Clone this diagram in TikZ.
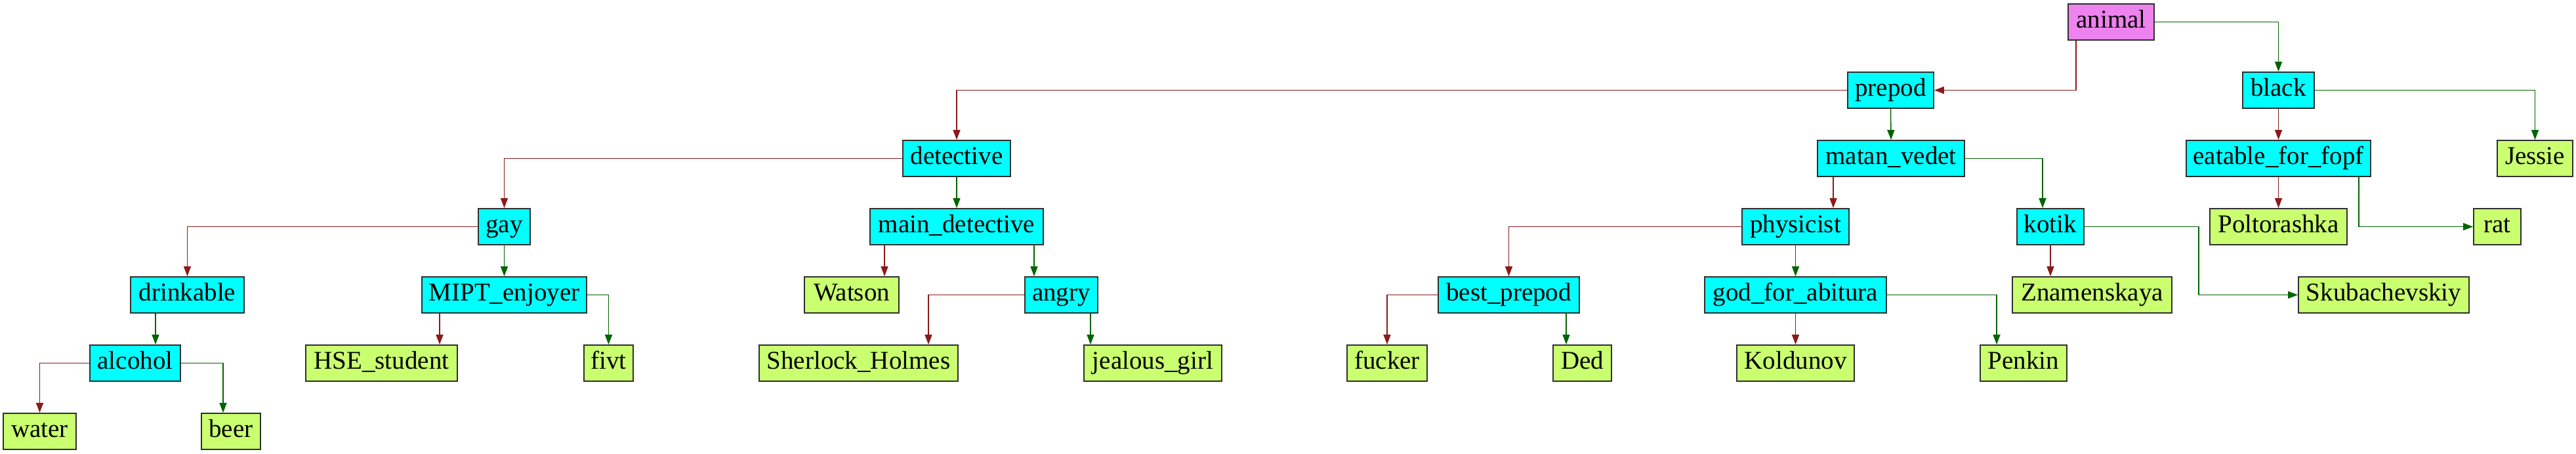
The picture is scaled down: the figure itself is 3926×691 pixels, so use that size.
\documentclass[tikz,border=0pt]{standalone}
\usepackage{fontspec}
\setmainfont{Liberation Serif}
\usetikzlibrary{arrows.meta}
\definecolor{cyanfill}{HTML}{00FFFF}
\definecolor{violetfill}{HTML}{EE82EE}
\definecolor{leaffill}{HTML}{CAFF70}
\definecolor{redge}{HTML}{8B1A1A}
\definecolor{gedge}{HTML}{006400}
\definecolor{boxline}{HTML}{303030}
\tikzset{
  box/.style={draw=boxline, line width=1.8pt, rectangle, minimum height=55pt, inner sep=0pt,
    font=\fontsize{39}{45}\selectfont, text height=26.5pt, text depth=7.8pt},
  inner/.style={box, fill=cyanfill},
  rootbox/.style={box, fill=violetfill},
  leaf/.style={box, fill=leaffill},
  redge/.style={draw=redge, line width=1.5pt, -{Triangle[length=15pt,width=11pt]}},
  gedge/.style={draw=gedge, line width=1.5pt, -{Triangle[length=15pt,width=11pt]}},
}
\begin{document}
\begin{tikzpicture}[x=1pt, y=-1pt]
\useasboundingbox (0,0) rectangle (3926,691);
% row 0
\node[rootbox, minimum width=131pt] (animal) at (3217.5,33.5) {animal};
% row 1
\node[inner, minimum width=131pt] (prepod) at (2881.5,137.5) {prepod};
\node[inner, minimum width=109pt] (black) at (3472.5,137.5) {black};
% row 2
\node[inner, minimum width=164pt] (detective) at (1458,241.5) {detective};
\node[inner, minimum width=224pt] (matan) at (2882,241.5) {matan\_vedet};
\node[inner, minimum width=281pt] (eatable) at (3472.5,241.5) {eatable\_for\_fopf};
\node[leaf, minimum width=115pt] (Jessie) at (3863.5,241.5) {Jessie};
% row 3
\node[inner, minimum width=79pt] (gay) at (768.5,345.5) {gay};
\node[inner, minimum width=264pt] (maindet) at (1458,345.5) {main\_detective};
\node[inner, minimum width=163pt] (physicist) at (2736.5,345.5) {physicist};
\node[inner, minimum width=102pt] (kotik) at (3125,345.5) {kotik};
\node[leaf, minimum width=209pt] (Poltorashka) at (3472.5,345.5) {Poltorashka};
\node[leaf, minimum width=72pt] (rat) at (3806,345.5) {rat};
% row 4
\node[inner, minimum width=173pt] (drinkable) at (285.5,449.5) {drinkable};
\node[inner, minimum width=251pt] (MIPT) at (768.5,449.5) {MIPT\_enjoyer};
\node[leaf, minimum width=144pt] (Watson) at (1298,449.5) {Watson};
\node[inner, minimum width=111pt] (angry) at (1617.5,449.5) {angry};
\node[inner, minimum width=215pt] (best) at (2299.5,449.5) {best\_prepod};
\node[inner, minimum width=277pt] (god) at (2736.5,449.5) {god\_for\_abitura};
\node[leaf, minimum width=243pt] (Znam) at (3188.5,449.5) {Znamenskaya};
\node[leaf, minimum width=260pt] (Skub) at (3633,449.5) {Skubachevskiy};
% row 5
\node[inner, minimum width=138pt] (alcohol) at (206,553.5) {alcohol};
\node[leaf, minimum width=231pt] (HSE) at (581.5,553.5) {HSE\_student};
\node[leaf, minimum width=75pt] (fivt) at (927.5,553.5) {fivt};
\node[leaf, minimum width=303pt] (Sherlock) at (1308.5,553.5) {Sherlock\_Holmes};
\node[leaf, minimum width=210pt] (jealous) at (1757,553.5) {jealous\_girl};
\node[leaf, minimum width=122pt] (fucker) at (2114,553.5) {fucker};
\node[leaf, minimum width=89pt] (Ded) at (2411.5,553.5) {Ded};
\node[leaf, minimum width=179pt] (Koldunov) at (2736.5,553.5) {Koldunov};
\node[leaf, minimum width=132pt] (Penkin) at (3084,553.5) {Penkin};
% row 6
\node[leaf, minimum width=111pt] (water) at (60.5,657.5) {water};
\node[leaf, minimum width=90pt] (beer) at (352,657.5) {beer};
% edges
\draw[redge] ([xshift=-53.5pt]animal.south) |- (prepod.east);
\draw[gedge] (animal.east) -| (black.north);
\draw[redge] (prepod.west) -| (detective.north);
\draw[gedge] (prepod.south) -- (matan.north);
\draw[redge] (black.south) -- (eatable.north);
\draw[gedge] (black.east) -| (Jessie.north);
\draw[redge] (detective.west) -| (gay.north);
\draw[gedge] (detective.south) -- (maindet.north);
\draw[redge] ([xshift=-88pt]matan.south) -- ([xshift=57.5pt]physicist.north);
\draw[gedge] (matan.east) -| ([xshift=-12pt]kotik.north);
\draw[redge] (eatable.south) -- (Poltorashka.north);
\draw[gedge] ([xshift=122.5pt]eatable.south) |- (rat.west);
\draw[redge] (gay.west) -| (drinkable.north);
\draw[gedge] (gay.south) -- (MIPT.north);
\draw[redge] ([xshift=-110pt]maindet.south) -- ([xshift=50pt]Watson.north);
\draw[gedge] ([xshift=118pt]maindet.south) -- ([xshift=-41.5pt]angry.north);
\draw[redge] (physicist.west) -| (best.north);
\draw[gedge] (physicist.south) -- (god.north);
\draw[redge] (kotik.south) -- ([xshift=-63.5pt]Znam.north);
\draw[gedge] (kotik.east) -- ++(174,0) |- (Skub.west);
\draw[gedge] ([xshift=-48.5pt]drinkable.south) -- ([xshift=31pt]alcohol.north);
\draw[redge] ([xshift=-98.5pt]MIPT.south) -- ([xshift=88.5pt]HSE.north);
\draw[gedge] (MIPT.east) -| (fivt.north);
\draw[redge] (angry.west) -| ([xshift=106.5pt]Sherlock.north);
\draw[gedge] ([xshift=44.5pt]angry.south) -- ([xshift=-95pt]jealous.north);
\draw[redge] (best.west) -| (fucker.north);
\draw[gedge] ([xshift=87.5pt]best.south) -- ([xshift=-24.5pt]Ded.north);
\draw[redge] (god.south) -- (Koldunov.north);
\draw[gedge] (god.east) -| ([xshift=-41pt]Penkin.north);
\draw[redge] (alcohol.west) -| (water.north);
\draw[gedge] (alcohol.east) -| ([xshift=-12pt]beer.north);
\end{tikzpicture}
\end{document}
